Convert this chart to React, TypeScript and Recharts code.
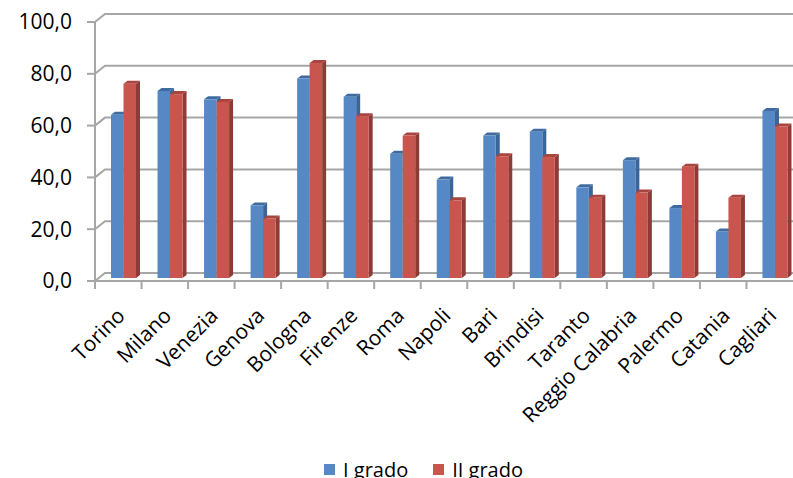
import { Bar, BarChart, CartesianGrid, Legend, XAxis, YAxis } from 'recharts';

const categories = [
  'Torino', 'Milano', 'Venezia', 'Genova', 'Bologna', 'Firenze', 'Roma', 'Napoli',
  'Bari', 'Brindisi', 'Taranto', 'Reggio Calabria', 'Palermo', 'Catania', 'Cagliari',
];
const primoGrado = [63, 72.2, 69, 28, 77, 70, 48, 38, 55, 56.5, 35, 45.5, 27, 18, 64.5];
const secondoGrado = [75, 71, 68, 23, 83, 62.5, 55, 30, 47, 46.7, 31, 33, 43, 31, 58.5];
const yTicks = [0, 20, 40, 60, 80, 100];

const seriesNames = ['I grado', 'II grado'];

const data = categories.map((name, i) => ({
  name,
  primo: primoGrado[i],
  secondo: secondoGrado[i],
}));

const W = 793;
const H = 478;
const AXIS_W = 95;
const PLOT_W = W - AXIS_W;
const FONT = '"Open Sans", sans-serif';
const GRID = '#a6a6a6';

// finto 3D stile Excel: faccia frontale, lato destro e coperchio
const palette: Record<string, { side: string; top: string }> = {
  '#5588c4': { side: '#3a6598', top: '#3f6b9f' },
  '#c8564f': { side: '#8e3b37', top: '#a9443f' },
};

function Bar3D(props: any) {
  const { x, y, width, height, fill } = props;
  if (width == null || height == null) return null;
  const sx = x + 5;
  const sy = y - 3;
  const dx = 4;
  const dy = 3;
  const c = palette[fill] || { side: fill, top: fill };
  return (
    <g>
      <polygon
        points={`${sx + width},${sy} ${sx + width + dx},${sy - dy} ${sx + width + dx},${sy + height - dy} ${sx + width},${sy + height}`}
        fill={c.side}
      />
      <polygon
        points={`${sx},${sy} ${sx + dx},${sy - dy} ${sx + width + dx},${sy - dy} ${sx + width},${sy}`}
        fill={c.top}
      />
      <rect x={sx} y={sy} width={width} height={height} fill={fill} />
    </g>
  );
}

function GridLine(props: any) {
  const { x1, x2, y1, index } = props;
  return (
    <path
      key={`g-${index}`}
      d={`M${x1},${y1} L${x1 + 10},${y1 - 8} L${x2 + 10},${y1 - 8}`}
      stroke={GRID}
      strokeWidth={2}
      fill="none"
    />
  );
}

function CityTick(props: any) {
  const { x, y, payload } = props;
  const band = PLOT_W / categories.length;
  const tx = x - band / 2;
  const ax = x + 8;
  const ay = y + 36;
  return (
    <g>
      <line x1={tx} y1={y} x2={tx} y2={y + 8} stroke={GRID} strokeWidth={2} />
      <text
        x={ax}
        y={ay}
        textAnchor="end"
        transform={`rotate(-45, ${ax}, ${ay})`}
        fontSize={21}
        fontFamily={FONT}
        fill="#000"
      >
        {payload.value}
      </text>
    </g>
  );
}

function renderLegend() {
  const colors = ['#5588c4', '#c8564f'];
  return (
    <div
      style={{
        display: 'flex',
        justifyContent: 'center',
        paddingLeft: 54,
        fontFamily: FONT,
        fontSize: 20,
        lineHeight: '27px',
        color: '#000',
      }}
    >
      {seriesNames.map((n, i) => (
        <span key={n} style={{ display: 'inline-flex', alignItems: 'center', marginLeft: i ? 25 : 0 }}>
          <span style={{ width: 11, height: 11, background: colors[i], display: 'inline-block', marginRight: 8 }} />
          {n}
        </span>
      ))}
    </div>
  );
}

export default function App() {
  return (
    <div style={{ position: 'absolute', left: 0, top: 0, width: W, height: H, background: '#fff', overflow: 'hidden' }}>
      <BarChart
        width={W}
        height={H}
        data={data}
        margin={{ top: 22, right: 0, left: 0, bottom: 0 }}
        barGap={0}
        barSize={12.5}
      >
        <CartesianGrid vertical={false} horizontal={GridLine} />
        <XAxis
          dataKey="name"
          interval={0}
          height={197}
          tickLine={false}
          tickSize={0}
          tickMargin={0}
          axisLine={{ stroke: GRID, strokeWidth: 2 }}
          tick={<CityTick />}
        />
        <YAxis
          domain={[0, 100]}
          ticks={yTicks}
          width={AXIS_W}
          tickSize={8}
          tickMargin={15}
          axisLine={{ stroke: GRID, strokeWidth: 2 }}
          tickLine={{ stroke: GRID, strokeWidth: 2 }}
          tick={{ fontSize: 21, fontFamily: FONT, fill: '#000' }}
          tickFormatter={(v: number) => v.toFixed(1).replace('.', ',')}
        />
        <Legend
          layout="horizontal"
          verticalAlign="middle"
          align="center"
          wrapperStyle={{ top: 456, left: 0, width: W }}
          content={renderLegend}
        />
        <Bar dataKey="primo" name={seriesNames[0]} fill="#5588c4" shape={<Bar3D />} isAnimationActive={false} />
        <Bar dataKey="secondo" name={seriesNames[1]} fill="#c8564f" shape={<Bar3D />} isAnimationActive={false} />
      </BarChart>
    </div>
  );
}
